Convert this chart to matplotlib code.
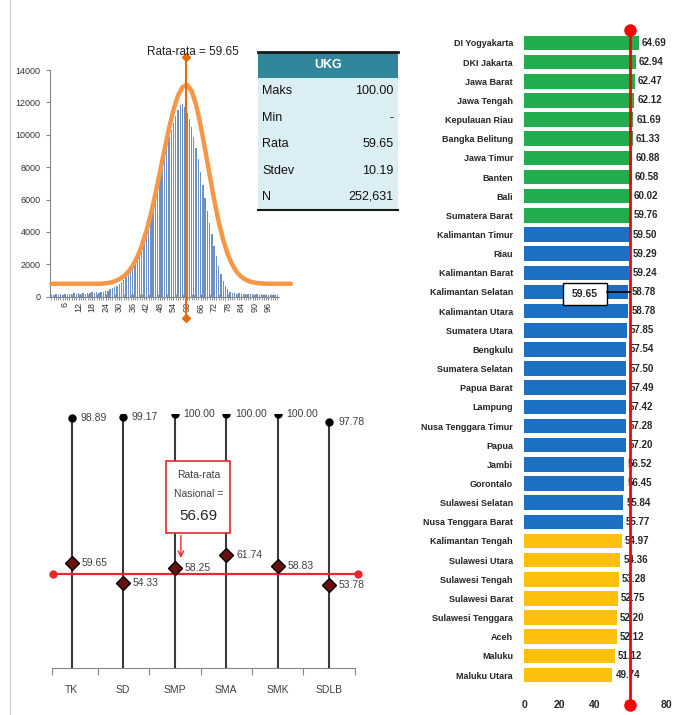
import matplotlib
matplotlib.use("Agg")
import matplotlib.pyplot as plt
import numpy as np
from matplotlib.lines import Line2D
from matplotlib.patches import Rectangle

plt.rcParams['font.family'] = ['Liberation Sans', 'DejaVu Sans']

# ---- distribusi nilai UKG (jumlah guru per skor 0..100)
hist_counts = [120, 90, 150, 110, 160, 130, 170, 120, 180, 150, 200, 140, 210, 170,
               230, 180, 240, 200, 260, 210, 280, 230, 300, 260, 340,
               380, 450, 520, 600, 680, 780, 900, 1050, 1200, 1400, 1650, 1950, 2300,
               2650, 3050, 3500, 3950, 4450, 4950, 5500, 6050, 6600, 7150, 7700, 8250,
               8800, 9350, 9850, 10300, 10750, 11150, 11550, 11850, 11900, 11700,
               11350, 11000, 10450, 9850, 9200, 8500, 7700, 6900, 6100, 5300, 4550,
               3850, 3150, 2500, 1900, 1400, 1000, 680, 450, 320, 250, 210, 180, 200,
               160, 190, 150, 170, 140, 160, 130, 150, 120, 140, 110, 130, 100, 120,
               90, 110, 100]
curve_x = [0, 2, 4, 6, 8, 10, 12, 14, 16, 18, 20, 22, 24, 26, 28, 30, 32, 34, 36, 38,
           40, 42, 44, 46, 48, 50, 52, 54, 56, 58, 60, 62, 64, 66, 68, 70, 72, 74, 76,
           78, 80, 82, 84, 86, 88, 90, 92, 94, 96, 98, 100, 102, 104, 106]
curve_y = [800, 800, 800, 800, 800, 800, 800, 800, 800, 800, 800, 800, 830, 870, 950,
           1080, 1260, 1530, 1920, 2450, 3150, 4040, 5100, 6330, 7680, 9050, 10370,
           11530, 12420, 12950, 13100, 12720, 11860, 10590, 9090, 7520, 5990, 4640,
           3510, 2630, 1980, 1530, 1230, 1040, 930, 870, 830, 810, 800, 800, 800, 800,
           800, 800]
hist_mean = 59.65

ukg_labels = ["Maks", "Min", "Rata", "Stdev", "N"]
ukg_values = ["100.00", "-", "59.65", "10.19", "252,631"]

# ---- per jenjang
levels = ["TK", "SD", "SMP", "SMA", "SMK", "SDLB"]
level_max = [98.89, 99.17, 100.00, 100.00, 100.00, 97.78]
level_min = [0, 0, 0, 0, 0, 0]
level_mean = [59.65, 54.33, 58.25, 61.74, 58.83, 53.78]
national_mean = 56.69

# ---- per provinsi
provinces = ["DI Yogyakarta", "DKI Jakarta", "Jawa Barat", "Jawa Tengah", "Kepulauan Riau",
             "Bangka Belitung", "Jawa Timur", "Banten", "Bali", "Sumatera Barat",
             "Kalimantan Timur", "Riau", "Kalimantan Barat", "Kalimantan Selatan",
             "Kalimantan Utara", "Sumatera Utara", "Bengkulu", "Sumatera Selatan",
             "Papua Barat", "Lampung", "Nusa Tenggara Timur", "Papua", "Jambi", "Gorontalo",
             "Sulawesi Selatan", "Nusa Tenggara Barat", "Kalimantan Tengah", "Sulawesi Utara",
             "Sulawesi Tengah", "Sulawesi Barat", "Sulawesi Tenggara", "Aceh", "Maluku",
             "Maluku Utara"]
prov_scores = [64.69, 62.94, 62.47, 62.12, 61.69, 61.33, 60.88, 60.58, 60.02, 59.76,
               59.50, 59.29, 59.24, 58.78, 58.78, 57.85, 57.54, 57.50, 57.49, 57.42,
               57.28, 57.20, 56.52, 56.45, 55.84, 55.77, 54.97, 54.36, 53.28, 52.75,
               52.20, 52.12, 51.12, 49.74]
prov_group = ["hi"] * 10 + ["mid"] * 16 + ["lo"] * 8
group_colors = {"hi": "#22ad4e", "mid": "#1c6fc2", "lo": "#fec00f"}
prov_mean = 59.65

W, H = 682, 715
fig = plt.figure(figsize=(W / 100, H / 100), dpi=100)


def px_axes(x0, y0, x1, y1):
    return fig.add_axes([x0 / W, 1 - y1 / H, (x1 - x0) / W, (y1 - y0) / H])


fig.add_artist(Line2D([10 / W, 10 / W], [0, 1], color="#c8c8c8", lw=0.8))

# ================= histogram
ax1 = px_axes(49.6, 70, 291, 296.7)
scores = np.arange(len(hist_counts))
ax1.bar(scores, hist_counts, width=0.6, color="#6b91c6", zorder=2)
ax1.plot(curve_x, curve_y, color="#f79646", lw=3.2, solid_capstyle="round",
         clip_on=False, zorder=3)
ax1.plot([hist_mean, hist_mean], [-1300, 14800], color="#e46c0a", lw=1.5,
         marker="D", ms=4, clip_on=False, zorder=4)
ax1.set_xlim(-0.8, 106)
ax1.set_ylim(0, 14000)
for s in ["top", "right"]:
    ax1.spines[s].set_visible(False)
for s in ["left", "bottom"]:
    ax1.spines[s].set_color("#868686")
ax1.spines["bottom"].set_bounds(-0.8, 100.5)
ax1.set_yticks(range(0, 14001, 2000))
ax1.set_xticks(range(6, 97, 6))
ax1.set_xticks(scores, minor=True)
ax1.tick_params(axis="y", labelsize=6.5, length=3, color="#868686", labelcolor="#333333")
ax1.tick_params(axis="x", which="both", direction="inout", length=4, color="#868686")
ax1.tick_params(axis="x", labelsize=6.5, labelrotation=90, labelcolor="#333333", pad=2)
fig.text(193 / W, 1 - 52 / H, "Rata-rata = %.2f" % hist_mean, ha="center", va="center",
         fontsize=8.5, color="#222222")

# ================= table UKG
axt = px_axes(258, 52, 398, 210)
axt.set_xlim(0, 1)
axt.set_ylim(len(ukg_labels) + 1, 0)
axt.axis("off")
axt.add_patch(Rectangle((0, 0), 1, 1, fc="#31869b", ec="none"))
axt.add_patch(Rectangle((0, 1), 1, len(ukg_labels), fc="#dbeef4", ec="none"))
axt.plot([0, 1], [0, 0], color="#1a1a1a", lw=2, clip_on=False)
axt.plot([0, 1], [len(ukg_labels) + 1] * 2, color="#1a1a1a", lw=1.5, clip_on=False)
axt.text(0.5, 0.5, "UKG", ha="center", va="center", color="white", fontsize=9,
         fontweight="bold")
for i, (lab, val) in enumerate(zip(ukg_labels, ukg_values)):
    axt.text(0.03, i + 1.5, lab, ha="left", va="center", fontsize=9, color="#111111")
    axt.text(0.97, i + 1.5, val, ha="right", va="center", fontsize=9, color="#111111")

# ================= per jenjang
ax2 = px_axes(51.6, 414, 355, 668)
xl = np.arange(len(levels))
ax2.set_xlim(-0.39, 5.5)
ax2.set_ylim(31.3, 100)
ax2.vlines(xl, level_min, level_max, color="#3a3a3a", lw=1.5, zorder=2)
ax2.plot(xl, level_max, "o", color="black", ms=5, zorder=3)
ax2.plot([-0.36, 5.56], [national_mean, national_mean], color="#e8282b", lw=1.6,
         marker="o", ms=5, clip_on=False, zorder=3)
ax2.plot(xl, level_mean, "D", mfc="#6b1010", mec="black", ms=7, zorder=4)
for x, mx, mn in zip(xl, level_max, level_mean):
    ax2.text(x + 0.17, mx, "%.2f" % mx, ha="left", va="center", fontsize=7.5,
             color="#404040", clip_on=False)
    ax2.text(x + 0.19, mn, "%.2f" % mn, ha="left", va="center", fontsize=7.5,
             color="#404040", clip_on=False)
ax2.add_patch(Rectangle((1.83, 67.9), 1.24, 19.5, fc="white", ec="#e8282b", lw=1.2,
                        zorder=5))
ax2.text(2.46, 83.5, "Rata-rata", ha="center", va="center", fontsize=7.5,
         color="#404040", zorder=6)
ax2.text(2.46, 78.3, "Nasional =", ha="center", va="center", fontsize=7.5,
         color="#404040", zorder=6)
ax2.text(2.46, 72.3, "%.2f" % national_mean, ha="center", va="center", fontsize=11,
         color="#262626", zorder=6)
ax2.annotate("", xy=(2.12, 60.3), xytext=(2.12, 67.9),
             arrowprops=dict(arrowstyle="->", color="#e8282b", lw=1))
for s in ["top", "right", "left"]:
    ax2.spines[s].set_visible(False)
ax2.spines["bottom"].set_color("#868686")
ax2.set_yticks([])
ax2.set_xticks([-0.39, 0.52, 1.51, 2.51, 3.5, 4.5, 5.5])
ax2.set_xticklabels([])
ax2.tick_params(axis="x", which="major", length=5, color="#868686")
ax2.set_xticks(xl, minor=True)
ax2.set_xticklabels(levels, minor=True)
ax2.tick_params(axis="x", which="minor", length=0, pad=12, labelsize=7.5,
                labelcolor="#404040")

# ================= per provinsi
ax3 = px_axes(524, 33.4, 666, 684.6)
yp = np.arange(len(provinces))
ax3.barh(yp, prov_scores, height=0.76, color=[group_colors[g] for g in prov_group],
         zorder=2)
ax3.set_xlim(0, 80)
ax3.set_ylim(len(provinces) - 0.5, -0.5)
for y, v in zip(yp, prov_scores):
    ax3.text(v + 1.8, y, "%.2f" % v, ha="left", va="center", fontsize=7,
             fontweight="bold", color="#262626", clip_on=False, zorder=4)
ax3.plot([prov_mean, prov_mean], [-0.68, 34.57], color="#ff0000", lw=2, marker="o",
         ms=8, clip_on=False, zorder=6)
ax3.add_patch(Rectangle((21.8, 12.52), 24.8, 1.16, fc="white", ec="black", lw=1,
                        zorder=7))
ax3.text(34.2, 13.1, "%.2f" % prov_mean, ha="center", va="center", fontsize=7.5,
         fontweight="bold", color="#262626", zorder=8)
ax3.plot([46.6, prov_mean], [13.0, 13.0], color="black", lw=1.2, zorder=7)
for s in ax3.spines.values():
    s.set_visible(False)
ax3.set_yticks(yp)
ax3.set_yticklabels(provinces)
ax3.set_xticks([0, 20, 40, 60, 80])
ax3.tick_params(axis="y", length=0, pad=8, labelsize=6.5, labelcolor="#262626")
ax3.tick_params(axis="x", length=0, pad=11, labelsize=7.5, labelcolor="#262626")
for lab in ax3.get_yticklabels() + ax3.get_xticklabels():
    lab.set_fontweight("bold")

fig.savefig("out.png", dpi=100)
